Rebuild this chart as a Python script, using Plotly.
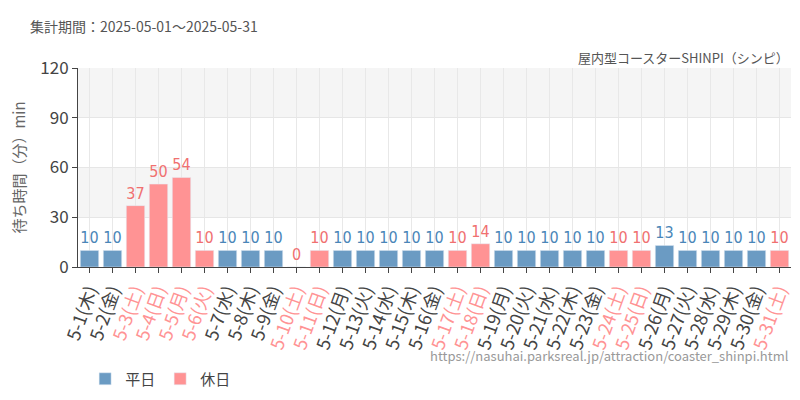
import plotly.graph_objects as go

dates = ["5-%d" % d for d in range(1, 32)]
youbi = ["木", "金", "土", "日", "月", "火", "水"]
values = [10, 10, 37, 50, 54, 10, 10, 10, 10, 0, 10, 10, 10, 10, 10, 10, 10, 14,
          10, 10, 10, 10, 10, 10, 10, 13, 10, 10, 10, 10, 10]
holidays = ["5-3", "5-4", "5-5", "5-6", "5-10", "5-11", "5-17", "5-18", "5-24", "5-25", "5-31"]

BLUE = "#6b9bc3"
PINK = "#ff9394"

ticktext = []
for i, d in enumerate(dates):
    lab = "%s(%s)" % (d, youbi[i % 7])
    col = PINK if d in holidays else "#444"
    ticktext.append("<span style='color:%s'>%s</span>" % (col, lab))

wd = [(d, v) for d, v in zip(dates, values) if d not in holidays]
hd = [(d, v) for d, v in zip(dates, values) if d in holidays]

fig = go.Figure()
fig.add_bar(x=[d for d, v in wd], y=[v for d, v in wd], name="平日",
            marker_color=BLUE, text=[v for d, v in wd], textposition="outside",
            textfont=dict(color="#4a86b8", size=16, family="DejaVu Sans Condensed"),
            cliponaxis=False)
fig.add_bar(x=[d for d, v in hd], y=[v for d, v in hd], name="休日",
            marker_color=PINK, text=[v for d, v in hd], textposition="outside",
            textfont=dict(color="#f07070", size=16, family="DejaVu Sans Condensed"),
            cliponaxis=False)

for y0, y1 in [(30, 60), (90, 120)]:
    fig.add_shape(type="rect", xref="paper", yref="y", x0=0, x1=1, y0=y0, y1=y1,
                  fillcolor="#f5f5f5", line_width=0, layer="below")

fig.update_layout(
    width=800, height=400, barmode="overlay", bargap=0.2,
    plot_bgcolor="white", paper_bgcolor="white",
    font=dict(family="Noto Sans CJK JP", color="#444"),
    margin=dict(l=70, r=17, t=60, b=125), uniformtext=None,
    legend=dict(orientation="h", x=0.01, y=-0.48, xanchor="left", yanchor="top",
                font=dict(size=15)),
    annotations=[
        dict(text="集計期間：2025-05-01～2025-05-31", xref="paper", yref="paper",
             x=-0.07, y=1.27, xanchor="left", showarrow=False, font=dict(size=14, color="#555")),
        dict(text="屋内型コースターSHINPI（シンピ）", xref="paper", yref="paper",
             x=1, y=1.11, xanchor="right", showarrow=False, font=dict(size=13, color="#555")),
        dict(text="https://nasuhai.parksreal.jp/attraction/coaster_shinpi.html", xref="paper",
             yref="paper", x=1, y=-0.5, xanchor="right", showarrow=False,
             font=dict(size=13, color="#999")),
    ],
)
fig.update_xaxes(categoryorder="array", categoryarray=dates, tickmode="array",
                 tickvals=dates, ticktext=ticktext, tickangle=-70, automargin=False,
                 tickfont=dict(size=18), showgrid=True, gridcolor="#e8e8e8",
                 ticks="outside", ticklen=5, tickcolor="#444",
                 showline=True, linecolor="#444")
fig.update_yaxes(range=[0, 120], dtick=30, tickfont=dict(size=17), automargin=False,
                 gridcolor="#e6e6e6", showline=True, linecolor="#444",
                 ticks="outside", ticklen=5, tickcolor="#444", zeroline=False,
                 title=dict(text="待ち時間（分）min", font=dict(size=15, color="#666"), standoff=12))

fig.write_html("out.html")
